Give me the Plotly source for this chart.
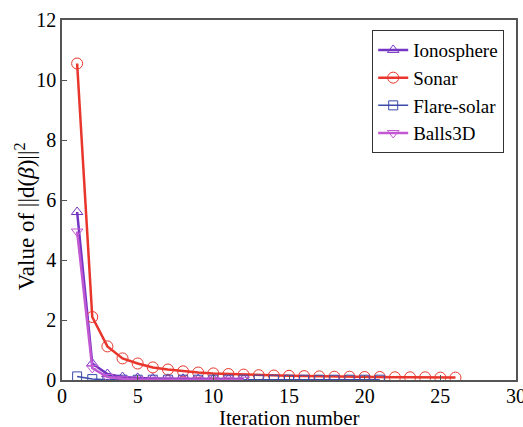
import plotly.graph_objects as go

iono_x = list(range(1, 13))
iono_y = [5.6, 0.55, 0.2, 0.1, 0.07, 0.05, 0.04, 0.04, 0.03, 0.03, 0.03, 0.03]
sonar_x = list(range(1, 27))
sonar_y = [10.55, 2.1, 1.12, 0.72, 0.55, 0.42, 0.35, 0.29, 0.25, 0.22, 0.2, 0.18, 0.16,
           0.15, 0.14, 0.13, 0.12, 0.11, 0.11, 0.1, 0.1, 0.09, 0.09, 0.09, 0.08, 0.08]
flare_x = list(range(1, 22))
flare_y = [0.12, 0.03, 0.01, 0.01, 0.01, 0.01, 0.01, 0.01, 0.01, 0.01, 0.01, 0.01, 0.01,
           0.01, 0.01, 0.01, 0.01, 0.01, 0.01, 0.01, 0.01]
balls_x = list(range(1, 13))
balls_y = [4.95, 0.4, 0.1, 0.04, 0.02, 0.01, 0.01, 0.01, 0.01, 0.01, 0.01, 0.01]
x_title = "Iteration number"
y_title = "Value of ||d(<i>β</i>)||<sup>2</sup>"

SERIF = "Liberation Serif"

fig = go.Figure()
fig.add_trace(go.Scatter(x=iono_x, y=iono_y, name="Ionosphere", mode="lines+markers",
                         line=dict(color="#7434C4", width=2.5),
                         marker=dict(symbol="triangle-up-open", size=10, color="#7434C4", line=dict(width=1))))
fig.add_trace(go.Scatter(x=sonar_x, y=sonar_y, name="Sonar", mode="lines+markers",
                         line=dict(color="#E8362C", width=2.5),
                         marker=dict(symbol="circle-open", size=11, color="#E8362C", line=dict(width=1))))
fig.add_trace(go.Scatter(x=flare_x, y=flare_y, name="Flare-solar", mode="lines+markers",
                         line=dict(color="#3A4BAA", width=1.5),
                         marker=dict(symbol="square-open", size=9, color="#3A4BAA", line=dict(width=1))))
fig.add_trace(go.Scatter(x=balls_x, y=balls_y, name="Balls3D", mode="lines+markers",
                         line=dict(color="#C258D2", width=2.5),
                         marker=dict(symbol="triangle-down-open", size=10, color="#C258D2", line=dict(width=1))))

axis_common = dict(showline=True, linecolor="#555555", linewidth=1.5, mirror=True,
                   ticks="inside", ticklen=5, tickcolor="#555555", showgrid=False,
                   zeroline=False, automargin=False, ticklabeloverflow="allow",
                   tickfont=dict(family=SERIF, size=20, color="black"))
fig.update_layout(
    width=523, height=427,
    margin=dict(l=62, r=7, t=20, b=47),
    paper_bgcolor="white", plot_bgcolor="white",
    font=dict(family=SERIF, color="black", size=20),
    xaxis=dict(range=[0, 30], tickvals=[0, 5, 10, 15, 20, 25, 30], ticklabelstandoff=-3, **axis_common),
    yaxis=dict(range=[0, 12], tickvals=[0, 2, 4, 6, 8, 10, 12], **axis_common),
    legend=dict(x=0.974, y=0.972, xanchor="right", yanchor="top",
                bordercolor="#333333", borderwidth=1, bgcolor="white",
                font=dict(family=SERIF, size=19), tracegroupgap=0, itemwidth=30),
    showlegend=True,
    annotations=[
        dict(text=x_title, xref="paper", yref="paper", x=0.5, y=0, xanchor="center", yanchor="top",
             yshift=-24, showarrow=False, font=dict(family=SERIF, size=21, color="black")),
        dict(text=y_title, xref="paper", yref="paper", x=0, y=0.455, xanchor="center", yanchor="middle",
             xshift=-37, textangle=-90, showarrow=False, font=dict(family=SERIF, size=23, color="black")),
    ],
)
fig.write_html("out.html", config={"displayModeBar": False},
               post_script="document.body.style.margin='0';document.body.style.overflow='hidden';")
